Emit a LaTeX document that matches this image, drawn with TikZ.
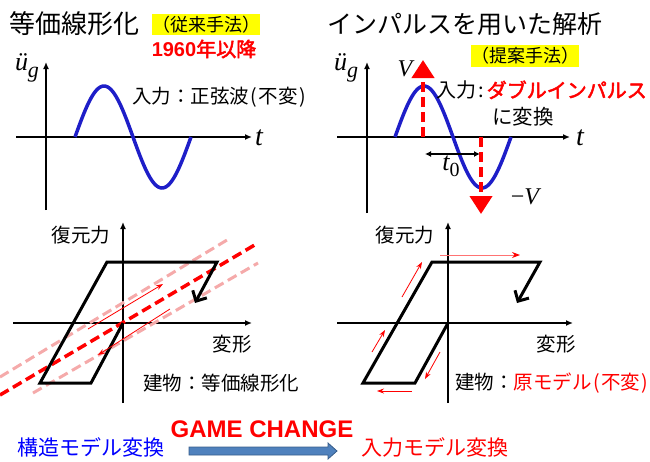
\documentclass[tikz,border=0pt]{standalone}
\usepackage{fontspec}
\setmainfont{Noto Sans CJK JP}[AutoFakeBold=2.5]
\newfontfamily\arialfont{Liberation Sans}
\newfontfamily\timesfont{Liberation Serif}
\usetikzlibrary{arrows.meta,calc}
\definecolor{sineblue}{RGB}{30,30,200}
\definecolor{pinkred}{RGB}{245,170,170}
\definecolor{hiyellow}{RGB}{255,255,0}
\definecolor{barfill}{RGB}{79,129,189}
\definecolor{barline}{RGB}{56,93,138}
\newcommand{\fsz}[1]{\fontsize{#1}{#1}\selectfont}
\newcommand{\ti}{\timesfont\itshape}
\newcommand{\lp}{\hspace{1.5pt}(\hspace{1.5pt}}
\newcommand{\rp}{\hspace{1.5pt})}
\tikzset{
  jp/.style={inner sep=0pt, font=\fsz{#1}},
  mathlbl/.style={inner sep=0pt, font=\fsz{#1}\ti},
  axis/.style={line width=1.6pt, -{Latex[length=7pt,width=6pt]}},
  sine/.style={line width=3.5pt, sineblue},
  loopline/.style={line width=3pt, line join=miter},
  bigdash/.style={line width=3.5pt, red, dash pattern=on 10pt off 5pt},
  pinkdash/.style={line width=3pt, pinkred, dash pattern=on 10pt off 5pt},
  thinarrow/.style={line width=0.8pt, red, -{Stealth[length=7pt,width=5pt]}},
  impulse/.style={line width=4pt, red, dash pattern=on 10pt off 5pt, -{Triangle[length=18pt,width=22pt]}},
}
\begin{document}
\begin{tikzpicture}[x=1pt,y=-1pt]
\useasboundingbox (0,0) rectangle (650,461);

% ---------------- top left ----------------
\node[jp=26, anchor=west] (titleL) at (9,24) {等価線形化};
\node[jp=18, fill=hiyellow, inner xsep=0pt, inner ysep=2pt] (conv) at (206,24.5) {（従来手法）};
\node[jp=20, red, font=\fsz{20}\bfseries] (year) at (204,49) {{\arialfont\bfseries 1960}年以降};

\coordinate (L1yb) at (46,210);
\coordinate (L1yt) at (46,62);
\coordinate (L1xl) at (16,137);
\coordinate (L1xr) at (252,137);
\draw[axis] (L1yb) -- (L1yt);
\draw[axis] (L1xl) -- (L1xr);
\node[mathlbl=26] (ugL) at (27,68) {ü\raisebox{-7pt}{\fsz{22}\ti g}};
\node[mathlbl=28] (tL) at (259,138) {t};
\draw[sine, domain=0:116, samples=80] plot ({75+\x},{137-51*sin(\x/116*360)});
\node[jp=19.5, anchor=west] (inL) at (132,97) {入力：正弦波\lp 不変\rp};

% ---------------- top right ----------------
\node[jp=25, anchor=west] (titleR) at (327,24) {インパルスを用いた解析};
\node[jp=18, fill=hiyellow, inner xsep=0pt, inner ysep=2pt] (prop) at (525,56) {（提案手法）};

\coordinate (R1yb) at (367,213);
\coordinate (R1yt) at (367,62);
\coordinate (R1xl) at (337,137);
\coordinate (R1xr) at (570,137);
\draw[axis] (R1yb) -- (R1yt);
\draw[axis] (R1xl) -- (R1xr);
\node[mathlbl=26] (ugR) at (346,68) {ü\raisebox{-7pt}{\fsz{22}\ti g}};
\node[mathlbl=28] (tR) at (580,138) {t};
\draw[sine, domain=0:116, samples=80] plot ({395+\x},{137-51*sin(\x/116*360)});

\coordinate (upS) at (423,137);
\coordinate (upE) at (423,60);
\coordinate (dnS) at (481,137);
\coordinate (dnE) at (481,214);
\draw[impulse] (upS) -- (upE);
\draw[impulse] (dnS) -- (dnE);
\node[mathlbl=24] (vp) at (405,69) {V};
\node[mathlbl=24] (vm) at (525,197) {{\upshape −}V};
\coordinate (t0a) at (425,154);
\coordinate (t0b) at (480,154);
\draw[line width=1.5pt, {Latex[length=6pt,width=6pt]}-{Latex[length=6pt,width=6pt]}] (t0a) -- (t0b);
\node[mathlbl=26] (t0) at (451,166) {t\raisebox{-6pt}{\fsz{20}\upshape 0}};
\node[jp=20, anchor=west] (inR) at (436,90) {入力\hspace{2.5pt}:\hspace{2.5pt}\textcolor{red}{\bfseries ダブルインパルス}};
\node[jp=20.5] (inR2) at (523,117) {に変換};

% ---------------- bottom left ----------------
\coordinate (L2yb) at (123,403);
\coordinate (L2yt) at (123,222);
\coordinate (L2xl) at (13,323);
\coordinate (L2xr) at (252,323);
\draw[axis] (L2yb) -- (L2yt);
\draw[axis] (L2xl) -- (L2xr);
\node[jp=19.5] (fL) at (81,235) {復元力};
\node[jp=19.5] (dL) at (232,344) {変形};

\draw[pinkdash] (0,377) -- (227,240);
\draw[pinkdash] (33,393) -- (258,263);
\draw[bigdash] (0,395) -- (258,243);

\draw[loopline, -{Straight Barb[length=8pt,width=16pt]}] (123,323) -- (91,383) -- (40,383) -- (107,262) -- (217,262) -- (195,303);
\draw[thinarrow] (88,329) -- (163,284);
\draw[thinarrow] (170,309) -- (98,355);
\node[jp=19.5, anchor=west] (bL) at (143,383) {建物：等価線形化};

% ---------------- bottom right ----------------
\coordinate (R2yb) at (448,403);
\coordinate (R2yt) at (448,222);
\coordinate (R2xl) at (337,323);
\coordinate (R2xr) at (573,323);
\draw[axis] (R2yb) -- (R2yt);
\draw[axis] (R2xl) -- (R2xr);
\node[jp=19.5] (fR) at (405,235) {復元力};
\node[jp=19.5] (dR) at (556,344) {変形};

\draw[loopline, -{Straight Barb[length=8pt,width=16pt]}] (448,323) -- (415,383) -- (363,383) -- (432,262) -- (540,262) -- (517,303);
\draw[line width=0.9pt, red!55, -{Stealth[length=8pt,width=6pt,color=red]}] (440,255) -- (520,255);
\draw[thinarrow] (402,297) -- (422,262);
\draw[thinarrow] (372,352) -- (385,330);
\draw[thinarrow] (412,391) -- (377,391);
\draw[thinarrow] (440,352) -- (425,379);
\node[jp=19.5, anchor=west] (bR) at (455,383) {建物：\textcolor{red}{原モデル\lp 不変\rp}};

% ---------------- bottom row ----------------
\node[jp=21, blue, anchor=west] (from) at (17,447) {構造モデル変換};
\node[jp=21, red, anchor=west] (to) at (361,447) {入力モデル変換};
\node[inner sep=0pt, red, font=\fsz{24}\arialfont\bfseries] (gc) at (262,429) {GAME CHANGE};
\coordinate (ba) at (189,451);
\draw[fill=barfill, draw=barline, line width=0.8pt]
  ($(ba)+(0,-4)$) -- ++(139,0) -- ++(0,-4) -- (337,451) -- (328,459) -- ++(0,-4) -- ($(ba)+(0,4)$) -- cycle;
\end{tikzpicture}
\end{document}
